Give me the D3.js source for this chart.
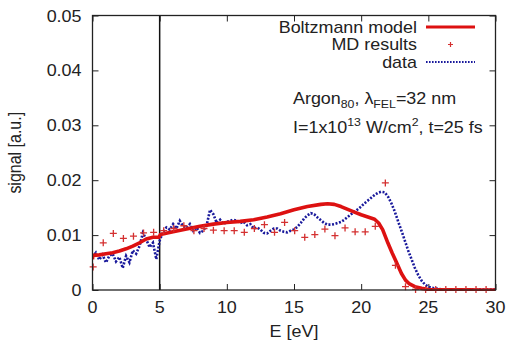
<!DOCTYPE html>
<html>
<head>
<meta charset="utf-8">
<script src="https://cdn.jsdelivr.net/npm/d3@7"></script>
<style>
body { margin: 0; background: #fff; }
text { font-family: "Liberation Sans", Arial, sans-serif; fill: #222; }
</style>
</head>
<body>
<div class="chart"></div>
<script>
// Boltzmann model (red solid)
let modelE = [0, 0.02, 0.5, 1, 1.5, 2, 2.5, 3, 3.5, 4, 4.5, 4.95, 5.05, 6, 7, 8, 9, 10, 11, 12, 13, 14, 15, 16, 17, 17.5, 18, 18.5, 19, 19.5, 20, 20.5, 21, 21.3, 21.6, 22, 22.3, 22.6, 23, 23.3, 23.6, 24, 24.5, 25, 26, 27, 28, 29, 30];
let modelS = [0.0056, 0.0063, 0.0064, 0.0066, 0.0068, 0.0071, 0.0075, 0.0080, 0.0086, 0.0093, 0.0096, 0.0096, 0.0101, 0.0106, 0.0111, 0.0116, 0.0120, 0.0123, 0.0125, 0.0128, 0.0133, 0.0139, 0.0146, 0.0152, 0.0156, 0.0157, 0.0156, 0.0152, 0.0147, 0.0142, 0.0137, 0.0133, 0.0129, 0.0122, 0.0110, 0.0085, 0.0068, 0.0052, 0.0030, 0.0018, 0.0011, 0.0006, 0.0003, 0.0001, 0.00005, 0.00003, 0.00002, 0.00001, 0];

// MD results (red +)
let mdE = [0.05, 0.8, 1.55, 2.3, 3.05, 3.8, 4.55, 5.3, 6.05, 6.8, 7.55, 8.3, 9.0, 9.8, 10.55, 11.3, 12.05, 12.8, 13.55, 14.3, 15.05, 15.8, 16.55, 17.3, 18.05, 18.8, 19.55, 20.3, 21.05, 21.8, 22.55, 23.3, 24.05, 24.8, 25.55, 26.3, 27.05, 27.8, 28.55, 29.3];
let mdS = [0.0042, 0.0086, 0.0103, 0.0094, 0.0098, 0.0104, 0.0105, 0.0108, 0.0112, 0.0117, 0.0108, 0.0112, 0.0109, 0.0108, 0.0108, 0.0105, 0.0112, 0.0119, 0.0105, 0.0123, 0.0108, 0.0096, 0.0101, 0.0111, 0.0099, 0.0113, 0.0106, 0.0106, 0.0116, 0.0195, 0.0045, 0.0006, 0.0001, 0.0001, 0.0001, 0.0001, 0.0001, 0.0001, 0.0001, 0.0001];

// data (blue dotted)
let dataE = [0, 0.25, 0.5, 0.75, 1, 1.25, 1.5, 1.75, 2, 2.25, 2.5, 2.75, 3, 3.25, 3.5, 3.75, 4, 4.25, 4.5, 4.75, 5, 5.25, 5.5, 5.75, 6, 6.25, 6.5, 6.75, 7, 7.25, 7.5, 7.75, 8, 8.25, 8.5, 8.75, 9, 9.25, 9.5, 9.75, 10, 10.25, 10.5, 10.75, 11, 11.25, 11.5, 11.75, 12, 12.25, 12.5, 12.75, 13, 13.25, 13.5, 13.75, 14, 14.25, 14.5, 14.75, 15, 15.25, 15.5, 15.75, 16, 16.25, 16.5, 16.75, 17, 17.25, 17.5, 17.75, 18, 18.25, 18.5, 18.75, 19, 19.25, 19.5, 19.75, 20, 20.25, 20.5, 20.75, 21, 21.25, 21.5, 21.75, 22, 22.25, 22.5, 22.75, 23, 23.25, 23.5, 23.75, 24, 24.25, 24.5, 24.75, 25, 25.25, 25.5, 25.75, 26, 27, 28, 29, 30];
let dataS = [0.0060, 0.0068, 0.0055, 0.0064, 0.0050, 0.0062, 0.0066, 0.0052, 0.0060, 0.0040, 0.0062, 0.0050, 0.0072, 0.0066, 0.0080, 0.0104, 0.0092, 0.0078, 0.0086, 0.0056, 0.0090, 0.0106, 0.0114, 0.0110, 0.0120, 0.0112, 0.0126, 0.0116, 0.0113, 0.0120, 0.0108, 0.0114, 0.0104, 0.0108, 0.0118, 0.0146, 0.0138, 0.0122, 0.0128, 0.0120, 0.0124, 0.0126, 0.0128, 0.0126, 0.0122, 0.0124, 0.0118, 0.0120, 0.0112, 0.0114, 0.0110, 0.0104, 0.0103, 0.0108, 0.0112, 0.0112, 0.0108, 0.0106, 0.0105, 0.0108, 0.0110, 0.0115, 0.0122, 0.0130, 0.0136, 0.0140, 0.0138, 0.0132, 0.0127, 0.0122, 0.0119, 0.0119, 0.0120, 0.0122, 0.0124, 0.0128, 0.0133, 0.0138, 0.0142, 0.0147, 0.0152, 0.0158, 0.0163, 0.0168, 0.0173, 0.0177, 0.0179, 0.0178, 0.0170, 0.0158, 0.0143, 0.0125, 0.0108, 0.0090, 0.0072, 0.0056, 0.0040, 0.0027, 0.0017, 0.0010, 0.0006, 0.0004, 0.0003, 0.0002, 0.0001, 0.0001, 0.0001, 0.0001, 0.0001];

let xTicks = [0, 5, 10, 15, 20, 25, 30];
let yTicks = [0, 0.01, 0.02, 0.03, 0.04, 0.05];
let markerE = 5;

let W = 507, H = 343;
let margin = { top: 15.5, right: 11.5, bottom: 53, left: 92.5 };
let width = W - margin.left - margin.right,
    height = H - margin.top - margin.bottom;

let red = '#dd1111', blue = '#1a1a9c', sx = 1.12;

let svg = d3.select('.chart').append('svg')
    .attr('width', W)
    .attr('height', H);

let g = svg.append('g')
    .attr('transform', 'translate(' + margin.left + ',' + margin.top + ')');

let x = d3.scaleLinear().domain([0, 30]).range([0, width]);
let y = d3.scaleLinear().domain([0, 0.05]).range([height, 0]);

// axes with inward ticks on all four sides
let axisStyle = sel => {
    sel.select('.domain').remove();
    sel.selectAll('line').attr('stroke', '#222').attr('stroke-width', 1);
    sel.selectAll('text').remove();
};
g.append('g').attr('transform', 'translate(0,' + height + ')')
    .call(d3.axisBottom(x).tickValues(xTicks).tickSizeInner(-6).tickSizeOuter(0)).call(axisStyle);
g.append('g')
    .call(d3.axisTop(x).tickValues(xTicks).tickSizeInner(-6).tickSizeOuter(0)).call(axisStyle);
g.append('g')
    .call(d3.axisLeft(y).tickValues(yTicks).tickSizeInner(-6).tickSizeOuter(0)).call(axisStyle);
g.append('g').attr('transform', 'translate(' + width + ',0)')
    .call(d3.axisRight(y).tickValues(yTicks).tickSizeInner(-6).tickSizeOuter(0)).call(axisStyle);

// tick labels (slightly stretched like the original)
xTicks.forEach(t => {
    g.append('text')
        .attr('transform', 'translate(' + x(t) + ',' + (height + 23) + ') scale(' + sx + ',1)')
        .attr('text-anchor', 'middle')
        .attr('font-size', 16)
        .text(t);
});
yTicks.forEach(t => {
    g.append('text')
        .attr('transform', 'translate(' + -11 + ',' + (y(t) + 6) + ') scale(' + sx + ',1)')
        .attr('text-anchor', 'end')
        .attr('font-size', 16)
        .text(t === 0 ? '0' : d3.format('.2f')(t));
});

g.append('text')
    .attr('transform', 'translate(' + (width / 2) + ',' + (height + 47) + ') scale(' + sx + ',1)')
    .attr('text-anchor', 'middle')
    .attr('font-size', 16)
    .text('E [eV]');

g.append('text')
    .attr('transform', 'translate(' + (-72) + ',' + (height / 2) + ') rotate(-90) scale(1,' + sx + ')')
    .attr('text-anchor', 'middle')
    .attr('font-size', 16)
    .text('signal [a.u.]');

// vertical marker at E = 5
g.append('line')
    .attr('x1', x(markerE)).attr('x2', x(markerE))
    .attr('y1', 0).attr('y2', height)
    .attr('stroke', '#111').attr('stroke-width', 1.5);

g.append('clipPath').attr('id', 'clip')
    .append('rect').attr('width', width).attr('height', height + 2).attr('y', -1);

let line = d3.line().x(d => x(d[0])).y(d => y(d[1]));

g.append('path')
    .datum(dataE.map((e, i) => [e, dataS[i]]))
    .attr('clip-path', 'url(#clip)')
    .attr('d', line)
    .attr('fill', 'none')
    .attr('stroke', blue)
    .attr('stroke-width', 2.6)
    .attr('stroke-dasharray', '2,1.6');

g.append('path')
    .datum(modelE.map((e, i) => [e, modelS[i]]))
    .attr('clip-path', 'url(#clip)')
    .attr('d', line)
    .attr('fill', 'none')
    .attr('stroke', red)
    .attr('stroke-width', 3.6)
    .attr('stroke-linejoin', 'round');

g.selectAll('.md')
    .data(mdE.map((e, i) => [e, mdS[i]]))
    .join('path')
    .attr('class', 'md')
    .attr('d', 'M-3.5,0H3.5M0,-3.5V3.5')
    .attr('transform', d => 'translate(' + x(d[0]) + ',' + y(d[1]) + ')')
    .attr('stroke', '#d43030')
    .attr('stroke-width', 1.3)
    .attr('fill', 'none');

// frame
g.append('rect')
    .attr('width', width).attr('height', height)
    .attr('fill', 'none').attr('stroke', '#222').attr('stroke-width', 1.3);

// legend
let legend = [
    { name: 'Boltzmann model', type: 'model' },
    { name: 'MD results', type: 'md' },
    { name: 'data', type: 'data' }
];
let lx1 = 426 - margin.left, lx2 = 475 - margin.left;
legend.forEach((d, i) => {
    let ly = 27 - margin.top + i * 17.5;
    g.append('text')
        .attr('transform', 'translate(' + (lx1 - 9) + ',' + (ly + 5.5) + ') scale(' + sx + ',1)')
        .attr('text-anchor', 'end')
        .attr('font-size', 16)
        .text(d.name);
    if (d.type === 'model') {
        g.append('line').attr('x1', lx1).attr('x2', lx2).attr('y1', ly).attr('y2', ly)
            .attr('stroke', red).attr('stroke-width', 3);
    } else if (d.type === 'md') {
        g.append('path').attr('d', 'M-2.5,0H2.5M0,-2.5V2.5')
            .attr('transform', 'translate(' + ((lx1 + lx2) / 2) + ',' + ly + ')')
            .attr('stroke', '#d43030').attr('stroke-width', 1.2);
    } else {
        g.append('line').attr('x1', lx1).attr('x2', lx2).attr('y1', ly).attr('y2', ly)
            .attr('stroke', blue).attr('stroke-width', 2).attr('stroke-dasharray', '1.6,1.4');
    }
});

// annotation
let ann1 = g.append('text')
    .attr('transform', 'translate(' + (293 - margin.left) + ',' + (104 - margin.top) + ') scale(' + sx + ',1)')
    .attr('font-size', 16);
ann1.append('tspan').text('Argon');
ann1.append('tspan').attr('font-size', 11).attr('dy', 4).text('80');
ann1.append('tspan').attr('dy', -4).text(', λ');
ann1.append('tspan').attr('font-size', 11).attr('dy', 4).text('FEL');
ann1.append('tspan').attr('dy', -4).text('=32 nm');

let ann2 = g.append('text')
    .attr('transform', 'translate(' + (293 - margin.left) + ',' + (133 - margin.top) + ') scale(' + sx + ',1)')
    .attr('font-size', 16);
ann2.append('tspan').text('I=1x10');
ann2.append('tspan').attr('font-size', 11).attr('dy', -7).text('13');
ann2.append('tspan').attr('dy', 7).text(' W/cm');
ann2.append('tspan').attr('font-size', 11).attr('dy', -7).text('2');
ann2.append('tspan').attr('dy', 7).text(', t=25 fs');
</script>
</body>
</html>
